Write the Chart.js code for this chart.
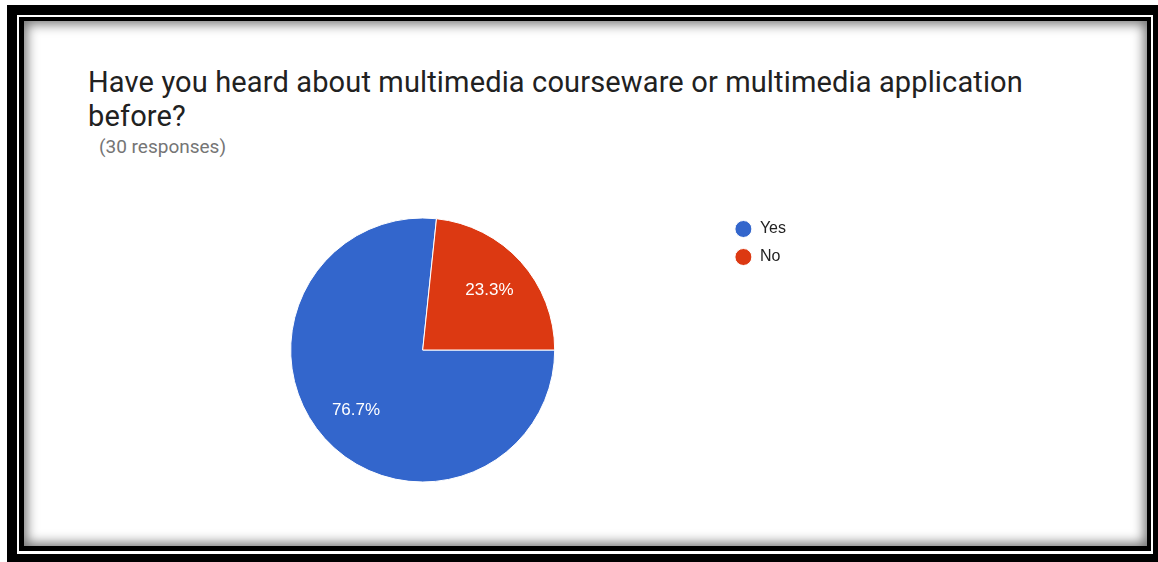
<!DOCTYPE html>
<html>
<head>
<meta charset="utf-8">
<script src="https://cdn.jsdelivr.net/npm/chart.js@4"></script>
<style>
  html, body { margin: 0; padding: 0; background: #fff; }
  body { width: 1158px; height: 562px; position: relative; overflow: hidden; }
  .box { position: absolute; }
  #f1 { left: 7px; top: 5px; width: 1151px; height: 557px; background: #000; }
  #f2 { left: 17px; top: 15px; width: 1136px; height: 539px; background: #fff; }
  #f3 { left: 19px; top: 17px; width: 1132px; height: 534px; background: #000; }
  #panel { left: 24px; top: 21px; width: 1123px; height: 525px; background: #fff;
           box-shadow: inset 0 0 12px 3px rgba(0,0,0,0.55); }
  #title { left: 88px; top: 65px; font: 29px Roboto, sans-serif; letter-spacing: 0.14px; line-height: 34px; color: #212121; white-space: nowrap; }
  #sub { left: 99px; top: 137px; font: 19px Roboto, sans-serif; line-height: 20px; color: #757575; }
  #wrap { left: 100px; top: 190px; width: 800px; height: 320px; }
</style>
</head>
<body>
<div class="box" id="f1"></div>
<div class="box" id="f2"></div>
<div class="box" id="f3"></div>
<div class="box" id="panel"></div>
<div class="box" id="title">Have you heard about multimedia courseware or multimedia application<br>before?</div>
<div class="box" id="sub">(30 responses)</div>
<div class="box" id="wrap"><canvas id="chart-area" width="800" height="320"></canvas></div>
<script>
	// answers and counts
	var answers = ["Yes", "No"];
	var counts = [23, 7];
	var sliceColors = ["#3366CC", "#DC3912"];

// white percentage text inside each slice
var sliceLabels = {
	id: 'sliceLabels',
	afterDatasetsDraw: function (chart) {
		var ctx = chart.ctx;
		var meta = chart.getDatasetMeta(0);
		var data = chart.data.datasets[0].data;
		var total = data.reduce(function (a, b) { return a + b; }, 0);
		ctx.save();
		ctx.fillStyle = '#fff';
		ctx.font = '17px "Liberation Sans", Arial, sans-serif';
		ctx.textAlign = 'center';
		ctx.textBaseline = 'middle';
		meta.data.forEach(function (arc, i) {
			var mid = (arc.startAngle + arc.endAngle) / 2;
			var r = arc.outerRadius * 0.68;
			var text = (data[i] / total * 100).toFixed(1) + '%';
			ctx.fillText(text, arc.x + Math.cos(mid) * r, arc.y + Math.sin(mid) * r);
		});
		ctx.restore();
	}
};

	init();

function init () {
	pieChart();
}

function pieChart () {
	var config = {
		type: 'pie',
		data: {
			labels: answers,
			datasets: [{
				data: counts,
				backgroundColor: sliceColors,
				borderColor: '#fff',
				borderWidth: 1,
				hoverOffset: 0
			}]
		},
		options: {
			responsive: false,
			animation: false,
			rotation: 90,
			radius: 132,
			layout: {
				padding: { left: 22.5, right: 104, top: 19, bottom: 19 }
			},
			plugins: {
				legend: {
					position: 'right',
					align: 'start',
					labels: {
						usePointStyle: true,
						pointStyle: 'circle',
						pointStyleWidth: 17,
						boxHeight: 12,
						padding: 12,
						color: '#222',
						font: { family: '"Liberation Sans", Arial, sans-serif', size: 16 }
					}
				},
				tooltip: { enabled: false }
			}
		},
		plugins: [sliceLabels]
	};

	var ctx = document.getElementById("chart-area").getContext("2d");
	window.myPie = new Chart(ctx, config);
}
</script>
</body>
</html>
